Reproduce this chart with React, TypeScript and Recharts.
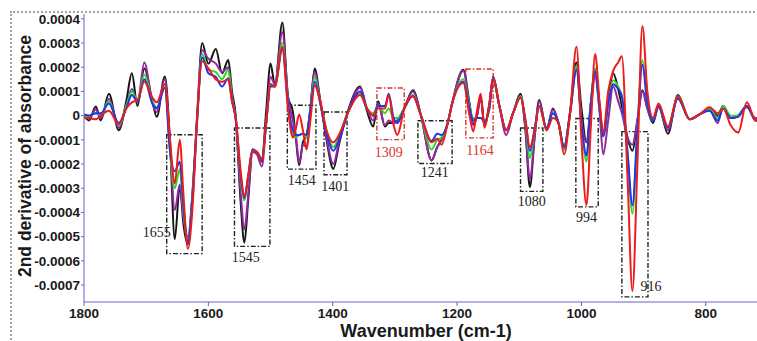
import React from 'react';
import {
  LineChart,
  Line,
  XAxis,
  YAxis,
  ReferenceArea,
  ReferenceDot,
  Label,
} from 'recharts';

// wavenumber grid (cm-1), shared by all five spectra
const wavenumbers = [
  1800, 1792, 1781, 1773, 1760, 1744, 1732, 1723, 1714, 1703,
  1690, 1683, 1670, 1662, 1654, 1646, 1640, 1633, 1625, 1618,
  1610, 1600, 1588, 1578, 1568, 1562, 1556, 1548, 1542, 1536,
  1529, 1522, 1514, 1507, 1500, 1493, 1481, 1472, 1464, 1459,
  1454, 1448, 1442, 1436, 1429, 1420, 1410, 1399, 1390, 1376,
  1356, 1345, 1335, 1327, 1316, 1310, 1302, 1296, 1285, 1271,
  1258, 1241, 1232, 1225, 1215, 1208, 1190, 1180, 1174, 1168,
  1162, 1156, 1148, 1142, 1132, 1121, 1110, 1098, 1090, 1083,
  1075, 1068, 1056, 1046, 1037, 1028, 1018, 1008, 1000, 992,
  985, 978, 971, 965, 957, 949, 941, 935, 926, 918,
  910, 902, 894, 885, 876, 861, 845, 826, 810, 794,
  781, 772, 760, 748, 734, 720, 706,
];

// second-derivative values, in units of 1e-4
const blackSeries = [
  0, -0.2, 0.38, -0.2, 0.9, -0.6, 0.6, 1.75, 0.4, 1.95,
  0.6, -0.05, 1.62, -0.9, -5.1, -2.9, -4.5, -5.3, -3.0, 0,
  3.0, 2.15, 2.75, 1.75, 2.3, 1.0, 0, -3.6, -5.25, -3.5,
  -1.5, -1.5, -1.9, 0.2, 2.15, 1.25, 3.85, 0.8, 0.15, -1.0,
  -2.05, -1.1, -0.8, 0.3, 1.95, 0.6, -1.0, -2.2, -1.2, 0.15,
  1.2, 0.2, -0.45, 0.6, -0.45, -0.3, -0.3, -0.2, 0.3, 1.05,
  0, -1.85, -1.3, -1.0, -0.3, 0.5, 1.9, 0.5, -0.35, 0,
  0.75, -0.4, 0.5, 1.6, 0.4, -0.6, 0.1, 0.9, -0.6, -2.95,
  -0.8, 0.65, -0.6, 0.3, -0.3, -1.3, 0.2, 2.2, 0.3, -1.1,
  0.5, 1.9, 0.5, -0.85, 0.6, 1.75, 1.1, 0.4, -0.9, -1.45,
  -0.2, 1.05, 0.3, -0.3, 0.4, -0.75, 0.85, -0.15, 0.05, 0.3,
  0, 0.4, -0.1, 0, 0.4, -0.2, 0.1,
];

const purpleSeries = [
  0, -0.1, 0.25, -0.1, 0.7, -0.5, 0.4, 1.1, 0.55, 2.2,
  0.5, 0.15, 1.5, -1.1, -3.9, -2.85, -4.2, -5.0, -3.0, -0.2,
  2.7, 2.35, 2.15, 1.8, 2.0, 0.8, -0.2, -3.2, -4.7, -3.3,
  -1.5, -1.6, -2.1, -0.3, 1.6, 1.3, 3.45, 0.8, -0.2, -0.9,
  -1.95, -1.2, -1.3, 0.2, 1.8, 0.6, -0.9, -2.0, -1.1, 0.1,
  1.15, 0.3, -0.2, 0.5, -0.4, -0.2, -0.3, -0.2, 0.3, 1.0,
  0, -1.85, -1.3, -1.0, -0.3, 0.5, 1.85, 0.4, -0.4, 0,
  0.75, -0.4, 0.5, 1.6, 0.4, -0.8, 0.1, 0.8, -0.6, -2.6,
  -0.8, 0.6, -0.6, 0.25, -0.3, -1.3, 0.1, 2.0, -0.2, -1.1,
  0.2, 1.65, 0.2, -1.6, -0.2, 1.2, 0.6, 0.1, -0.9, -1.2,
  -0.2, 1.0, 0.3, -0.2, 0.35, -0.6, 0.75, -0.15, 0.05, 0.25,
  -0.3, 0.4, -0.1, 0, 0.35, -0.1, 0.1,
];

const greenSeries = [
  0, 0, 0.1, 0.05, 0.6, -0.4, 0.4, 1.0, 0.6, 1.7,
  0.6, 0.35, 1.3, -1.3, -3.0, -2.2, -4.0, -5.2, -3.2, -0.1,
  2.55, 1.9, 1.8, 1.5, 1.9, 0.7, -0.1, -2.6, -3.5, -2.6,
  -1.4, -1.5, -1.75, -0.3, 1.3, 1.2, 3.0, 0.5, -0.8, -0.9,
  -0.8, -0.75, -0.9, 0.2, 1.6, 0.5, -0.6, -1.3, -0.9, 0.1,
  0.9, 0.3, 0.1, 0.4, 0.1, 0.3, -0.1, -0.1, 0.3, 0.85,
  0, -1.4, -1.0, -0.9, -0.3, 0.5, 1.5, 0.4, -0.1, -0.1,
  -0.1, -0.2, 0.3, 1.5, 0.4, -0.6, 0.1, 0.8, -0.3, -1.75,
  -0.5, 0.4, -0.5, 0.1, -0.3, -1.4, 0.2, 2.05, -0.3, -1.9,
  0.5, 1.95, 0.3, -0.85, 0.5, 1.45, 1.2, 0.8, -1.5, -4.05,
  -0.5, 2.3, 0.5, -0.2, 0.4, -0.5, 0.8, -0.15, 0.05, 0.3,
  -0.1, 0.4, 0, 0, 0.4, -0.2, 0.1,
];

const blueSeries = [
  0.05, 0, 0.1, 0.1, 0.5, -0.3, 0.3, 0.85, 0.6, 1.5,
  0.5, 0.3, 1.15, -1.4, -2.3, -1.9, -3.8, -5.2, -3.3, -0.1,
  2.4, 1.75, 1.6, 1.2, 1.55, 0.6, -0.1, -2.5, -3.4, -2.5,
  -1.4, -1.5, -1.8, -0.3, 1.2, 1.2, 2.75, 0.5, -0.6, -0.8,
  -0.8, -0.75, -0.8, 0.2, 1.4, 0.5, -0.7, -1.45, -1.0, 0.1,
  1.0, 0.3, 0.0, 0.4, 0.4, 0.9, -0.1, -0.3, 0.3, 0.8,
  0, -1.05, -0.75, -0.8, -0.3, 0.5, 1.4, 0.3, -0.2, -0.1,
  -0.1, -0.25, 0.3, 1.5, 0.4, -0.6, 0.1, 0.75, -0.2, -1.45,
  -0.5, 0.4, -0.5, 0.1, -0.3, -1.3, 0.2, 1.9, -0.3, -1.65,
  0.5, 1.8, 0.3, -0.85, 0.5, 1.3, 1.1, 0.8, -1.5, -3.7,
  -0.5, 2.1, 0.5, -0.2, 0.4, -0.5, 0.7, -0.15, 0.05, 0.2,
  -0.2, 0.3, -0.1, -0.05, 0.4, -0.2, 0.1,
];

const redSeries = [
  -0.1, -0.1, -0.15, 0, 0.2, -0.35, 0.3, 0.55, 0.65, 1.4,
  0.75, 0.55, 1.3, -0.9, -2.8, -1.0, -3.3, -5.5, -3.6, 0,
  2.25, 1.95, 1.5, 1.4, 1.5, 0.6, -0.1, -2.3, -3.35, -2.5,
  -1.45, -1.5, -1.85, -0.3, 1.3, 1.2, 2.85, 0.3, -0.9, -0.5,
  0.05, -0.6, -1.4, -0.2, 1.25, 0.6, -0.6, -1.1, -0.8, 0.1,
  0.85, 0.3, 0.0, 0.3, 0.3, 0.85, -0.4, -0.8, 0.3, 0.8,
  0, -1.1, -0.95, -1.2, -0.3, 0.5, 1.35, 0.0, -0.65, 0.2,
  0.9, -0.5, 0.5, 1.5, 0.4, -0.6, 0.1, 0.75, -0.2, -1.3,
  -0.6, 0.4, -0.6, -0.1, -0.3, -1.6, 0.2, 2.85, -1.0, -3.7,
  -0.5, 2.55, 0.6, -0.7, 1.0, 1.85, 2.2, 2.45, -2.5, -7.25,
  -2.0, 3.7, 1.0, -0.1, 0.5, -0.45, 0.8, -0.15, 0.05, 0.35,
  0.1, 0.3, -0.4, -0.7, 0.55, -0.2, 0.1,
];

const xTicks = [1800, 1600, 1400, 1200, 1000, 800];
const yTicks = [0.0004, 0.0003, 0.0002, 0.0001, 0, -0.0001, -0.0002, -0.0003, -0.0004, -0.0005, -0.0006, -0.0007];

// marked bands: box extent (cm-1, 1e-4 units) and where the band label sits
const bands = [
  { name: '1655', from: 1667, to: 1610, top: -0.79, bottom: -5.7, labelX: 1683, labelY: -4.79, red: false },
  { name: '1545', from: 1558, to: 1501, top: -0.51, bottom: -5.4, labelX: 1540, labelY: -5.84, red: false },
  { name: '1454', from: 1473, to: 1427, top: 0.43, bottom: -2.21, labelX: 1450, labelY: -2.67, red: false },
  { name: '1401', from: 1414, to: 1377, top: 0.15, bottom: -2.44, labelX: 1396, labelY: -2.92, red: false },
  { name: '1309', from: 1329, to: 1285, top: 1.14, bottom: -0.99, labelX: 1310, labelY: -1.52, red: true },
  { name: '1241', from: 1263, to: 1208, top: -0.21, bottom: -1.98, labelX: 1236, labelY: -2.34, red: false },
  { name: '1164', from: 1186, to: 1142, top: 1.93, bottom: -0.92, labelX: 1163, labelY: -1.43, red: true },
  { name: '1080', from: 1098, to: 1062, top: -0.51, bottom: -3.13, labelX: 1080, labelY: -3.54, red: false },
  { name: '994', from: 1009, to: 973, top: -0.12, bottom: -3.77, labelX: 992, labelY: -4.19, red: false },
  { name: '916', from: 935, to: 893, top: -0.66, bottom: -7.49, labelX: 888, labelY: -7.05, red: false },
];

const SCALE = 1e-4;

const data = wavenumbers.map((wn, i) => ({
  wn,
  black: blackSeries[i] * SCALE,
  purple: purpleSeries[i] * SCALE,
  green: greenSeries[i] * SCALE,
  blue: blueSeries[i] * SCALE,
  red: redSeries[i] * SCALE,
}));

const series = [
  { key: 'black', color: '#161616' },
  { key: 'purple', color: '#93279f' },
  { key: 'green', color: '#2fd82f' },
  { key: 'blue', color: '#2233ee' },
  { key: 'red', color: '#ee1b1b' },
];

const AXIS = '#6464cf';
const SANS = '"Liberation Sans", Arial, sans-serif';
const SERIF = '"Liberation Serif", "Times New Roman", serif';

const formatY = (v: number) => (v === 0 ? '0' : v.toFixed(4));

function YTitle(props: any) {
  const vb = props.viewBox;
  const x = vb.x + 23;
  const y = vb.y + 142;
  return (
    <text
      x={x}
      y={y}
      transform={`rotate(-90 ${x} ${y})`}
      textAnchor="middle"
      fill="#1a1a1a"
      fontFamily={SANS}
      fontWeight={700}
      fontSize={17.5}
    >
      2nd derivative of absorbance
    </text>
  );
}

export default function App() {
  return (
    <div
      style={{
        position: 'absolute',
        left: 8,
        top: 8,
        width: 749,
        height: 333,
        overflow: 'hidden',
        background: '#fff',
      }}
    >
      <div
        style={{
          position: 'absolute',
          left: 2,
          top: 3,
          width: 900,
          height: 500,
          border: '2px dotted #a2a2a2',
        }}
      />
      <div style={{ position: 'absolute', left: 0, top: 0 }}>
        <LineChart width={760} height={334} data={data} margin={{ top: 6, right: 0, bottom: 0, left: 0 }}>
          <XAxis
            dataKey="wn"
            type="number"
            domain={[700, 1800]}
            reversed
            ticks={xTicks}
            allowDataOverflow
            stroke={AXIS}
            height={40}
            tickSize={4}
            tickMargin={2}
            tick={{ fill: '#1a1a1a', fontSize: 13.5, fontWeight: 700, fontFamily: SANS }}
          >
            <Label
              value="Wavenumber (cm-1)"
              position="insideBottom"
              offset={5}
              fill="#1a1a1a"
              fontSize={18}
              fontWeight={700}
              fontFamily={SANS}
            />
          </XAxis>
          <YAxis
            type="number"
            domain={[-0.00077, 0.00042]}
            ticks={yTicks}
            allowDataOverflow
            interval={0}
            width={76}
            stroke={AXIS}
            tickSize={3}
            tickMargin={1}
            tickFormatter={formatY}
            tick={{ fill: '#1a1a1a', fontSize: 13.5, fontWeight: 700, fontFamily: SANS }}
          >
            <Label content={YTitle} />
          </YAxis>
          {series.map((s) => (
            <Line
              key={s.key}
              type="monotone"
              dataKey={s.key}
              stroke={s.color}
              strokeWidth={2}
              dot={false}
              activeDot={false}
              isAnimationActive={false}
            />
          ))}
          {bands.map((b) => (
            <ReferenceArea
              key={`box-${b.name}`}
              x1={b.from}
              x2={b.to}
              y1={b.top * SCALE}
              y2={b.bottom * SCALE}
              fill="none"
              fillOpacity={0}
              stroke={b.red ? '#e0302a' : '#222'}
              strokeWidth={1.4}
              strokeDasharray="5 2 1.5 2"
              ifOverflow="visible"
            />
          ))}
          {bands.map((b) => (
            <ReferenceDot
              key={`label-${b.name}`}
              x={b.labelX}
              y={b.labelY * SCALE}
              r={0}
              fill="none"
              stroke="none"
              ifOverflow="visible"
              label={{
                value: b.name,
                position: 'center',
                fill: b.red ? '#e0302a' : '#222',
                fontSize: 14,
                fontFamily: SERIF,
              }}
            />
          ))}
        </LineChart>
      </div>
    </div>
  );
}
